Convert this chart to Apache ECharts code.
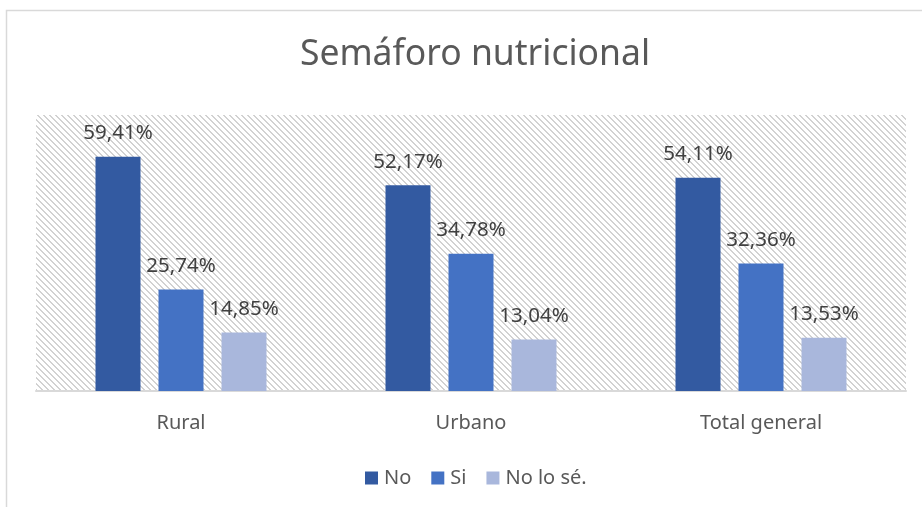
<!DOCTYPE html>
<html>
<head>
<meta charset="utf-8">
<script src="https://cdn.jsdelivr.net/npm/echarts@6/dist/echarts.min.js"></script>
<style>
html,body{margin:0;padding:0;background:#fff;}
#c{width:922px;height:507px;}
</style>
</head>
<body>
<div id="c"></div>
<script>
var titleText = 'Semáforo nutricional';
var categories = ['Rural', 'Urbano', 'Total general'];
var seriesNames = ['No', 'Si', 'No lo sé.'];
var valuesNo = [59.41, 52.17, 54.11];
var valuesSi = [25.74, 34.78, 32.36];
var valuesNoLoSe = [14.85, 13.04, 13.53];
var seriesColors = ['#335AA1', '#4472C4', '#A9B7DC'];

var FONT = 'Noto Sans';

// hatch pattern
var tile = document.createElement('canvas');
var T = 6;
tile.width = T; tile.height = T;
var tctx = tile.getContext('2d');
tctx.fillStyle = '#ffffff';
tctx.fillRect(0, 0, T, T);
tctx.fillStyle = '#d2d2d2';
for (var y = 0; y < T; y++) {
  for (var x = 0; x < T; x++) {
    var d = ((x - y) % T + T) % T;
    if (d === 0 || d === 1) tctx.fillRect(x, y, 1, 1);
  }
}

var chart = echarts.init(document.getElementById('c'), null, {renderer: 'canvas'});

function makeSeries(name, data, color) {
  return {
    name: name,
    type: 'bar',
    data: data,
    barWidth: 45,
    barGap: '40%',
    itemStyle: {color: color},
    label: {
      show: true,
      position: 'top',
      distance: 13,
      fontFamily: FONT,
      fontSize: 20.5,
      color: '#404040',
      formatter: function (p) { return p.value.toFixed(2).replace('.', ',') + '%'; }
    }
  };
}

var option = {
  backgroundColor: '#ffffff',
  animation: false,
  title: {
    text: titleText,
    left: 470,
    textAlign: 'center',
    top: 32,
    textStyle: {fontFamily: FONT, fontSize: 35.5, fontWeight: 'normal', color: '#595959'}
  },
  legend: {
    data: seriesNames,
    bottom: 14,
    left: 360,
    icon: 'rect',
    itemWidth: 13,
    itemHeight: 13,
    itemGap: 20,
    itemStyle: {borderWidth: 0},
    textStyle: {fontFamily: FONT, fontSize: 20, color: '#595959', padding: [0, 0, 0, 1]}
  },
  graphic: [{
    type: 'rect',
    shape: {x: 6.5, y: 10.5, width: 940, height: 520},
    style: {fill: null, stroke: '#d9d9d9', lineWidth: 1.5},
    silent: true,
    z: 0
  }],
  grid: {
    left: 36, right: 16, top: 115, bottom: 116,
    show: true,
    borderWidth: 0,
    backgroundColor: {image: tile, repeat: 'repeat'}
  },
  xAxis: {
    type: 'category',
    data: categories,
    axisLine: {show: true, lineStyle: {color: '#d9d9d9', width: 2}},
    axisTick: {show: false},
    axisLabel: {fontFamily: FONT, fontSize: 20, color: '#595959', margin: 22}
  },
  yAxis: {
    type: 'value',
    min: 0, max: 70,
    show: false,
    splitLine: {show: false}
  },
  series: [
    makeSeries(seriesNames[0], valuesNo, seriesColors[0]),
    makeSeries(seriesNames[1], valuesSi, seriesColors[1]),
    makeSeries(seriesNames[2], valuesNoLoSe, seriesColors[2])
  ]
};
chart.setOption(option);
</script>
</body>
</html>
